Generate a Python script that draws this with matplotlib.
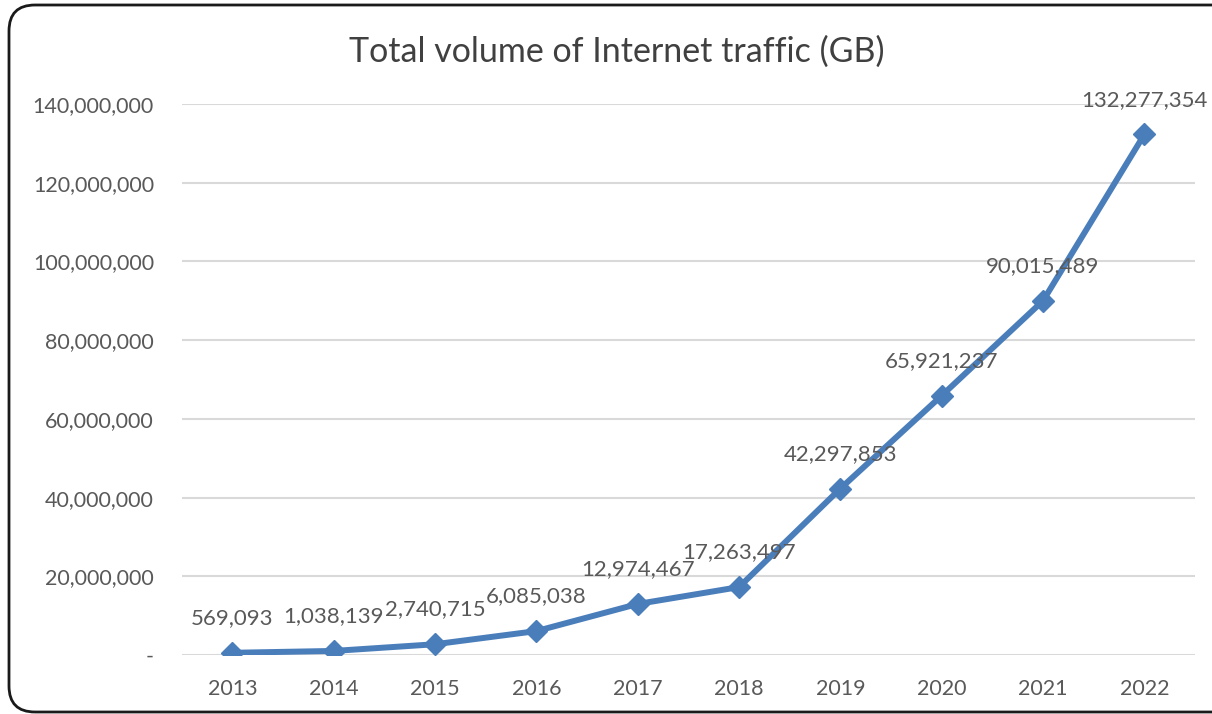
import numpy as np
import matplotlib.pyplot as plt
from matplotlib.patches import FancyBboxPatch

# Data
years = ['2013', '2014', '2015', '2016', '2017', '2018', '2019', '2020', '2021', '2022']
traffic_gb = [569093, 1038139, 2740715, 6085038, 12974467,
              17263497, 42297853, 65921237, 90015489, 132277354]
y_ticks = [0, 20000000, 40000000, 60000000, 80000000, 100000000, 120000000, 140000000]

text_col = '#595959'
line_col = '#4A7EBB'

plt.rcParams['font.family'] = ['Lato', 'DejaVu Sans']

fig = plt.figure(figsize=(12.12, 7.14), dpi=100)
ax = fig.add_axes([0.150, 0.0826, 0.836, 0.7717])

x = np.arange(len(years))
ax.plot(x, traffic_gb, color=line_col, linewidth=4.3, marker='D',
        markersize=11, markerfacecolor=line_col, markeredgecolor=line_col, zorder=3)

# Data labels above each point
for xi, val in zip(x, traffic_gb):
    ax.annotate(f'{val:,}', (xi, val), xytext=(0, 25), textcoords='offset points',
                ha='center', va='center', fontsize=16, color=text_col, zorder=4)

ax.set_xlim(-0.5, len(years) - 0.5)
ax.set_ylim(0, 140000000)
ax.set_xticks(x)
ax.set_xticklabels(years)
ax.set_yticks(y_ticks)
ax.set_yticklabels(['-' if v == 0 else f'{v:,}' for v in y_ticks])

ax.grid(axis='y', color='#D9D9D9', linewidth=1.5)
ax.set_axisbelow(True)
for s in ax.spines.values():
    s.set_visible(False)
ax.tick_params(axis='both', length=0, labelsize=15.5, labelcolor=text_col)
ax.tick_params(axis='y', pad=20)
ax.tick_params(axis='x', pad=17)

fig.text(0.509, 0.928, 'Total volume of Internet traffic (GB)', ha='center', va='center',
         fontsize=24.5, color='#404040')

# Rounded chart frame (runs off the right edge like the original)
frame = FancyBboxPatch((9, 2), 1240, 707, boxstyle='round,pad=0,rounding_size=26',
                       transform=None, facecolor='none', edgecolor='#1a1a1a',
                       linewidth=2.0, zorder=10)
fig.patches.append(frame)

fig.savefig('out.png', dpi=100)
